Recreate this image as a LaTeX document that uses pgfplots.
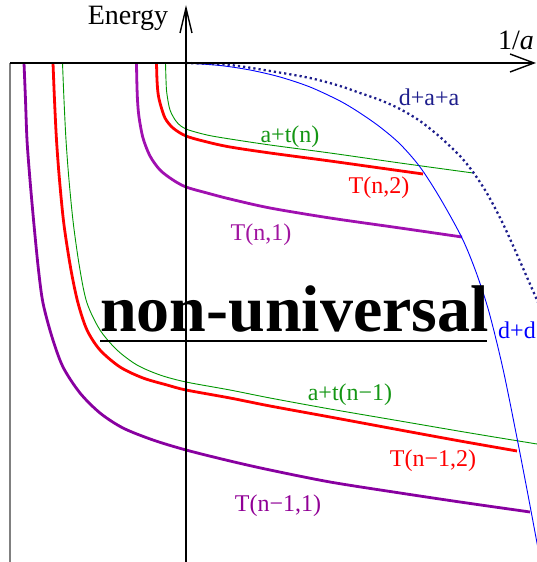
\documentclass[border=0pt]{standalone}
\usepackage{fontspec}
\setmainfont{Liberation Serif}
\usepackage{pgfplots}
\pgfplotsset{compat=1.18}
\usetikzlibrary{arrows.meta}

\definecolor{tnone}{RGB}{160,16,176}
\definecolor{tmone}{RGB}{136,0,160}
\definecolor{tnonetxt}{RGB}{160,20,160}
\definecolor{tmonetxt}{RGB}{144,0,150}
\definecolor{atgreen}{RGB}{0,150,0}
\definecolor{attxt}{RGB}{20,150,20}
\definecolor{ddblue}{RGB}{0,0,255}
\definecolor{daanavy}{RGB}{30,30,140}

\begin{document}
\begin{tikzpicture}[lab/.style={font=\fontsize{24bp}{28bp}\selectfont, inner sep=0pt}]
\begin{axis}[
  width=537bp, height=562bp, scale only axis,
  xmin=-186, xmax=351, ymin=-499, ymax=63,
  hide axis, clip mode=individual,
  every axis plot/.append style={smooth, tension=0.5},
]
% three-body levels of the n-th branch
\addplot[tnone, line width=2.8bp] coordinates {
  (-49.5,0) (-49.2,-17) (-48.5,-37) (-47,-54) (-43,-75) (-36,-93)
  (-26,-107) (-13,-117) (0,-124) (21,-130) (44,-136) (84,-145)
  (144,-155) (214,-165) (276,-174)};
\addplot[red, line width=2.8bp] coordinates {
  (-29.5,0) (-29,-17) (-28,-30) (-26,-40) (-21,-55) (-13,-65) (0,-73)
  (21,-79) (44,-84) (84,-90) (144,-98) (194,-105) (237,-111)};
\addplot[atgreen, line width=0.9bp] coordinates {
  (-20.5,0) (-20,-17) (-19.2,-30) (-16,-47) (-9.3,-59) (0,-66)
  (21,-72) (44,-76) (84,-82) (144,-90) (214,-100) (287,-110)};
% levels of the (n-1)-th branch
\addplot[tmone, line width=2.8bp] coordinates {
  (-162,0) (-160.5,-37) (-159,-77) (-156,-117) (-152,-162) (-147.5,-207)
  (-143,-240) (-134,-274) (-123,-304) (-106,-330) (-86,-350) (-63,-365)
  (-33,-377) (0,-387) (44,-398) (84,-407) (144,-419) (214,-430)
  (274,-439) (344,-449)};
\addplot[red, line width=2.8bp] coordinates {
  (-133,0) (-131.5,-37) (-129.5,-77) (-126.5,-117) (-122,-162) (-115,-207)
  (-108,-240) (-99,-267) (-86,-287) (-66,-304) (-43,-315) (-19,-322)
  (0,-327) (44,-335) (84,-343) (144,-354) (214,-367) (274,-378) (331,-388)};
\addplot[atgreen, line width=0.9bp] coordinates {
  (-123.5,0) (-122,-37) (-120,-77) (-117,-117) (-112.5,-162) (-106,-207)
  (-99,-240) (-86,-267) (-69,-287) (-49,-302) (-26,-312) (0,-319)
  (44,-327) (84,-335) (144,-346) (214,-358) (284,-370) (351,-381)};
% thresholds
\addplot[ddblue, line width=0.9bp] coordinates {
  (0,0) (34,-2.5) (64,-7) (94,-14) (124,-24) (154,-38) (174,-50) (194,-64)
  (214,-81) (234,-104) (254,-135) (276,-175) (290,-209) (303,-249)
  (317,-306) (331,-375) (342,-432) (351,-480) (356,-507)};
\addplot[daanavy, line width=2.3bp, dash pattern=on 2.2bp off 3bp] coordinates {
  (0,0) (44,-2) (84,-8) (124,-15) (154,-23) (174,-30) (194,-37) (214,-46)
  (234,-58) (254,-74) (274,-93) (287,-109) (299,-127) (309,-145)
  (319,-165) (329,-187) (340,-212) (351,-237) (356,-249)};

% axes
\draw[gray, line width=1.4bp] (axis cs:-176,0) -- (axis cs:-176,-499);
\draw[black, line width=1.4bp, -{Straight Barb[length=24bp,width=18bp,line width=1.4bp]}]
  (axis cs:-176,0) -- (axis cs:350,0);
\draw[black, line width=1.4bp, -{Straight Barb[length=25bp,width=12bp,line width=1.4bp]}]
  (axis cs:0,-499) -- (axis cs:0,58);

% labels
\node[anchor=base, font=\fontsize{28bp}{32bp}\selectfont] at (axis cs:-58,38) {Energy};
\node[anchor=base, font=\fontsize{28bp}{32bp}\selectfont] at (axis cs:330,13) {1/\textit{a}};
\node[lab, daanavy] at (axis cs:243,-34) {d+a+a};
\node[lab, attxt] at (axis cs:104,-74) {a+t(n)};
\node[lab, red] at (axis cs:193,-125) {T(n,2)};
\node[lab, tnonetxt] at (axis cs:75,-172) {T(n,1)};
\node[lab, ddblue] at (axis cs:331,-267) {d+d};
\node[lab, attxt] at (axis cs:164,-332) {a+t(n−1)};
\node[lab, red] at (axis cs:247,-398) {T(n−1,2)};
\node[lab, tmonetxt] at (axis cs:92,-443) {T(n−1,1)};
\node[anchor=base west, inner sep=0pt, font=\fontsize{66bp}{70bp}\selectfont\bfseries]
  at (axis cs:-86,-269) {non-universal};
\draw[black, line width=2.6bp] (axis cs:-86,-278) -- (axis cs:301,-278);
\end{axis}
\pgfresetboundingbox
\path (current axis.south west) rectangle (current axis.north east);
\end{tikzpicture}
\end{document}
